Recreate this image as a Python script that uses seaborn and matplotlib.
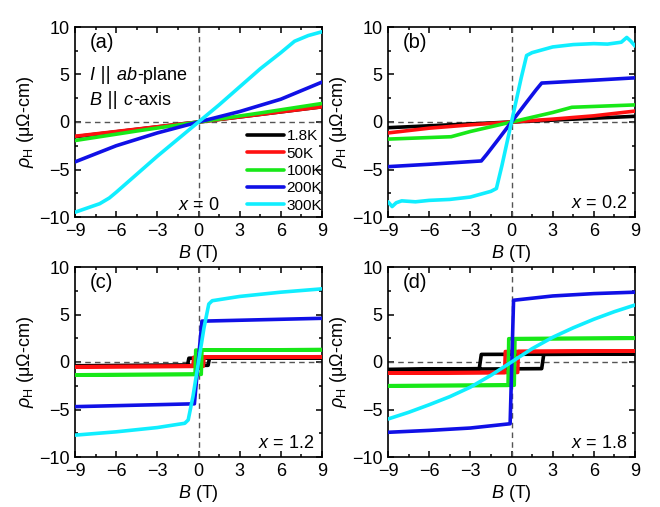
import pandas as pd
import matplotlib
matplotlib.use("Agg")
import matplotlib.pyplot as plt
from matplotlib.ticker import MultipleLocator
import seaborn as sns

# temperatures and their colours
temps = ["1.8K", "50K", "100K", "200K", "300K"]
colors = ["#000000", "#FF1010", "#18E818", "#1010E6", "#10EEFF"]

# panel labels and doping
panel_tags = ["(a)", "(b)", "(c)", "(d)"]
doping = ["0", "0.2", "1.2", "1.8"]

# (a) x = 0 : (B in T, rho_H in uOhm-cm)
a_1p8K = ([-9, 0, 9], [-1.55, 0, 1.6])
a_50K = ([-9, 0, 9], [-1.5, 0, 1.6])
a_100K = ([-9, -4.5, 0, 4.5, 9], [-1.95, -0.95, 0, 0.95, 1.95])
a_200K = ([-9, -6, -3, 0, 3, 6, 9], [-4.2, -2.5, -1.15, 0, 1.1, 2.4, 4.2])
a_300K = ([-9, -8, -7.2, -6.5, -6, -4.5, -3, -1.5, 0, 1.5, 3, 4.5, 6, 6.5, 7, 8, 9],
          [-9.5, -9.0, -8.6, -8.0, -7.4, -5.5, -3.6, -1.8, 0, 1.8, 3.7, 5.6,
           7.3, 7.9, 8.5, 9.1, 9.5])

# (b) x = 0.2
b_1p8K = ([-9, 0, 9], [-0.6, 0, 0.6])
b_50K = ([-9, -6, -3, 0, 3, 6, 9], [-1.15, -0.65, -0.3, 0, 0.3, 0.65, 1.15])
b_100K = ([-9, -4.4, -3, 0, 3, 4.4, 9], [-1.8, -1.55, -1.0, 0, 1.0, 1.55, 1.8])
b_200K = ([-9, -6, -2.2, -1.8, -1.0, 0, 1.0, 1.8, 2.2, 6, 9],
          [-4.7, -4.45, -4.1, -3.4, -1.9, 0, 1.9, 3.4, 4.1, 4.4, 4.65])
b_300K = ([-9, -8.7, -8.4, -8, -7, -6, -4.5, -3, -1.5, -1.1, -0.7, 0,
           0.7, 1.1, 1.5, 3, 4.5, 6, 7, 8, 8.4, 8.7, 9],
          [-8.4, -8.9, -8.5, -8.3, -8.4, -8.25, -8.15, -7.9, -7.3, -7.0, -4.6, 0,
           4.6, 7.0, 7.3, 7.9, 8.15, 8.25, 8.2, 8.4, 8.9, 8.5, 8.0])

# (c) x = 1.2 : hysteresis loops, up sweep then down sweep
c_1p8K = ([-9, 0.7, 0.8, 9, -0.7, -0.8, -9],
          [-0.4, -0.35, 0.4, 0.45, 0.4, -0.35, -0.4])
c_50K = ([-9, 0.35, 0.4, 9, -0.35, -0.4, -9],
         [-0.5, -0.45, 0.5, 0.55, 0.5, -0.45, -0.5])
c_100K = ([-9, 0.2, 0.25, 9, -0.2, -0.25, -9],
          [-1.35, -1.3, 1.25, 1.3, 1.25, -1.3, -1.35])
c_200K = ([-9, -0.3, 0.25, 9], [-4.7, -4.4, 4.3, 4.6])
c_300K = ([-9, -6, -3, -1, -0.75, -0.4, 0, 0.4, 0.75, 1, 3, 6, 9],
          [-7.7, -7.35, -6.9, -6.45, -6.1, -3.6, 0, 3.6, 6.1, 6.45, 6.9, 7.35, 7.7])

# (d) x = 1.8
d_1p8K = ([-9, 2.2, 2.35, 9, -2.2, -2.35, -9],
          [-0.8, -0.7, 0.8, 0.85, 0.8, -0.7, -0.8])
d_50K = ([-9, 0.45, 0.5, 9, -0.45, -0.5, -9],
         [-1.15, -1.1, 1.1, 1.15, 1.1, -1.1, -1.15])
d_100K = ([-9, 0.2, 0.25, 9, -0.2, -0.25, -9],
          [-2.5, -2.45, 2.45, 2.5, 2.45, -2.45, -2.5])
d_200K = ([-9, -6, -3, -0.1, 0.15, 3, 6, 9],
          [-7.4, -7.2, -6.95, -6.5, 6.5, 6.95, 7.2, 7.35])
d_300K = ([-9, -7.5, -6, -4.5, -3, -1.5, 0, 1.5, 3, 4.5, 6, 7.5, 9],
          [-6.0, -5.3, -4.5, -3.65, -2.65, -1.4, 0, 1.4, 2.6, 3.6, 4.5, 5.3, 6.0])

panels = [
    [a_1p8K, a_50K, a_100K, a_200K, a_300K],
    [b_1p8K, b_50K, b_100K, b_200K, b_300K],
    [c_1p8K, c_50K, c_100K, c_200K, c_300K],
    [d_1p8K, d_50K, d_100K, d_200K, d_300K],
]

rows = []
for p, curves in enumerate(panels):
    for t, (bs, rs) in zip(temps, curves):
        for i, (b, r) in enumerate(zip(bs, rs)):
            rows.append({"panel": p, "T": t, "idx": i, "B": b, "rho": r})
df = pd.DataFrame(rows)

sns.set_theme(style="ticks")
plt.rcParams["font.family"] = ["Liberation Sans", "DejaVu Sans"]
plt.rcParams["mathtext.fontset"] = "custom"
plt.rcParams["mathtext.rm"] = "Liberation Sans"
plt.rcParams["mathtext.it"] = "Liberation Sans:italic"
plt.rcParams["mathtext.bf"] = "Liberation Sans:bold"
plt.rcParams["axes.linewidth"] = 1.2
plt.rcParams["axes.edgecolor"] = "black"
plt.rcParams["text.color"] = "black"
plt.rcParams["axes.labelcolor"] = "black"
plt.rcParams["xtick.color"] = "black"
plt.rcParams["ytick.color"] = "black"


def chain_text(ax, x, y, pieces):
    # write pieces one after another on the same baseline
    first, style, fam = pieces[0]
    prev = ax.text(x, y, first, transform=ax.transAxes, fontsize=13,
                   va="baseline", fontstyle=style, family=fam)
    for s, style, fam in pieces[1:]:
        prev = ax.annotate(s, xy=(1, 0), xycoords=prev, fontsize=13,
                           va="bottom", ha="left", fontstyle=style, family=fam)


fig = plt.figure(figsize=(6.6, 5.07), dpi=100)
W, H = 660, 507
boxes = [(75, 27), (388, 27), (75, 267), (388, 267)]
aw, ah = 247, 190
lib = ["Liberation Sans"]
dv = ["DejaVu Sans"]

for p in range(4):
    x0, y0 = boxes[p]
    ax = fig.add_axes([x0 / W, 1 - (y0 + ah) / H, aw / W, ah / H])
    ax.axhline(0, color="#555555", lw=1, ls=(0, (4, 3)), zorder=1)
    ax.axvline(0, color="#555555", lw=1, ls=(0, (4, 3)), zorder=1)
    sns.lineplot(data=df[df.panel == p], x="B", y="rho", hue="T",
                 hue_order=temps, palette=colors, sort=False, estimator=None,
                 lw=2.6, ax=ax, legend=(p == 0), zorder=3)
    ax.set_xlim(-9, 9)
    ax.set_ylim(-10, 10)
    ax.xaxis.set_major_locator(MultipleLocator(3))
    ax.xaxis.set_minor_locator(MultipleLocator(1.5))
    ax.yaxis.set_major_locator(MultipleLocator(5))
    ax.yaxis.set_minor_locator(MultipleLocator(2.5))
    ax.tick_params(which="both", direction="in", top=True, right=True,
                   labelsize=13, width=1.1)
    ax.tick_params(which="major", length=4.5, pad=4)
    ax.tick_params(which="minor", length=2.5)
    ax.set_xlabel(r"$B$ (T)", fontsize=13, labelpad=2.5)
    ax.set_ylabel(r"$\rho_\mathrm{H}$ (μΩ-cm)", fontsize=13, labelpad=2)
    ax.text(0.06, 0.92, panel_tags[p], transform=ax.transAxes, fontsize=14.5,
            va="center", ha="left")
    dx = "$x$ = " + doping[p]
    if p == 0:
        ax.text(0.5, 0.06, dx, transform=ax.transAxes, fontsize=13,
                ha="center", va="center")
        chain_text(ax, 0.06, 0.72, [("I ", "italic", lib), ("||", "oblique", dv),
                                    (" ab", "italic", lib), ("-plane", "normal", lib)])
        chain_text(ax, 0.06, 0.59, [("B ", "italic", lib), ("||", "oblique", dv),
                                    (" c", "italic", lib), ("-axis", "normal", lib)])
        leg = ax.legend(loc="lower right", frameon=False, fontsize=11,
                        handlelength=2.4, handletextpad=0.15, labelspacing=0.22,
                        borderaxespad=0.0, bbox_to_anchor=(1.025, -0.01))
        for h in leg.get_lines():
            h.set_linewidth(2.6)
    else:
        ax.text(0.97, 0.07, dx, transform=ax.transAxes, fontsize=13,
                ha="right", va="center")

fig.savefig("out.png", dpi=100)
